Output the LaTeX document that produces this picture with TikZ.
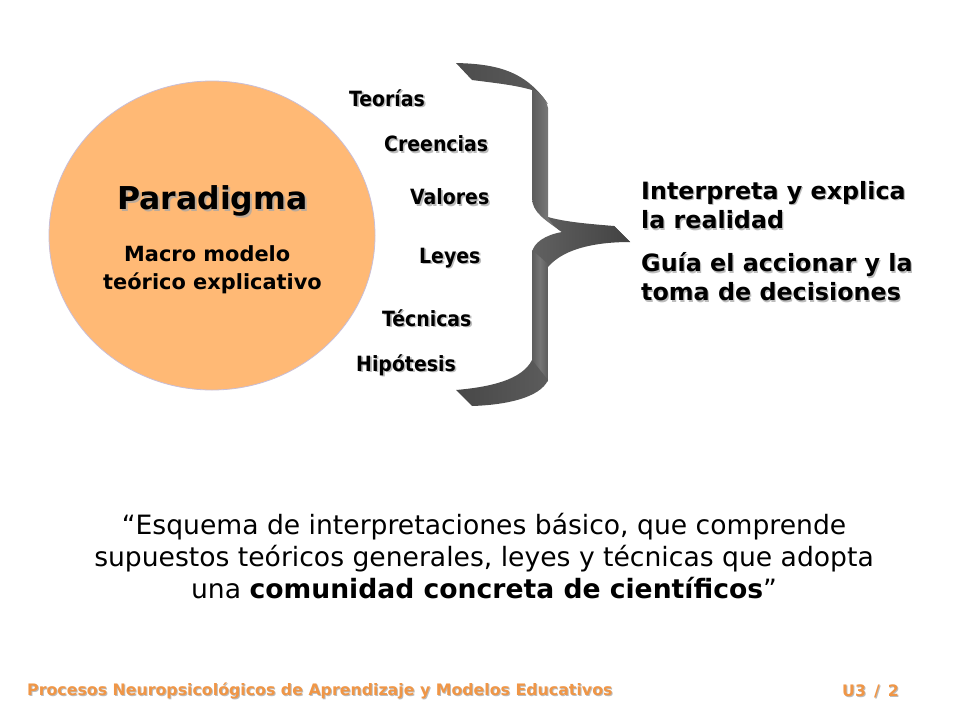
\documentclass[tikz,border=0pt]{standalone}
\usepackage{fontspec}
\setmainfont{DejaVu Sans}
\newfontfamily\condf{DejaVu Sans Condensed}
\usetikzlibrary{calc}
\definecolor{peach}{RGB}{255,185,117}
\definecolor{rimc}{RGB}{200,190,215}
\definecolor{footc}{RGB}{240,150,70}
\tikzset{x=1pt,y=-1pt,
  txt/.style={inner sep=0pt,anchor=west,font=\bfseries},
  lab/.style={inner sep=0pt,anchor=west,font=\condf\bfseries\fontsize{21}{25}\selectfont},
  side/.style={txt,font=\bfseries\fontsize{23.8}{28}\selectfont},
  sub/.style={txt,font=\bfseries\fontsize{20.9}{25}\selectfont},
  foot/.style={txt,text=footc,font=\bfseries\fontsize{15.8}{18}\selectfont},
  shd/.style={text=black!35,opacity=.75},
}
\newcommand{\stext}[5][1.6]{%
  \node[#2,shd] at ($(#3)+(#1,#1)$) {#5};
  \node[#2] (#4) at (#3) {#5};}
\begin{document}
\begin{tikzpicture}
\useasboundingbox (0,0) rectangle (960,720);
\fill[white] (0,0) rectangle (960,720);
\path[fill=peach,draw=rimc,line width=.8pt] (212,235.5) ellipse [x radius=163,y radius=154.5];
% brace
\path[left color=black!70,right color=black!64] (456,63) .. controls (495,64) and (525,70) .. (548,104)
  -- (532,90) .. controls (515,85) and (495,83) .. (472,80) -- cycle;
\path[left color=black!64,right color=black!64,middle color=black!54] (532,89) .. controls (540,93) and (546,98) .. (548,108) -- (548,217) -- (562,232) .. controls (545,220) and (532,212) .. (532,198) -- cycle;
\path[left color=black!64,right color=black!74] (548,217) .. controls (565,222) and (590,224) .. (614,226) -- (630,242) .. controls (600,240) and (580,238) .. (562,232) .. controls (555,228) and (551,222) .. (548,217) -- cycle;
\path[left color=black!62,right color=black!74] (562,232) .. controls (580,226) and (600,228) .. (614,226) -- (630,242) .. controls (600,242) and (565,247) .. (548,267) -- (532,253) .. controls (533,243) and (545,235) .. (562,232) -- cycle;
\path[left color=black!64,right color=black!64,middle color=black!54] (532,250) -- (548,264) -- (548,382) -- (532,362) -- cycle;
\path[left color=black!72,right color=black!64] (456,390) .. controls (490,387) and (522,380) .. (532,360) -- (548,380)
  .. controls (540,398) and (505,405) .. (472,406) -- cycle;
% circle text
\stext[2]{txt,font=\bfseries\fontsize{31.5}{36}\selectfont}{117,201}{par}{Paradigma}
\node[sub] (m1) at (124,254) {Macro modelo};
\node[sub] (m2) at (103,283) {teórico explicativo};
% labels
\stext{lab}{349,98}{l1}{Teorías}
\stext{lab}{384,144}{l2}{Creencias}
\stext{lab}{410,197}{l3}{Valores}
\stext{lab}{419,258}{l4}{Leyes}
\stext{lab}{382,318}{l5}{Técnicas}
\stext{lab}{356,365}{l6}{Hipótesis}
% right
\stext[1.2]{side}{641,193}{r1}{Interpreta y explica}
\stext[1.2]{side}{641,220}{r2}{la realidad}
\stext[1.2]{side}{641,265}{r3}{Guía el accionar y la}
\stext[1.2]{side}{641,292}{r4}{toma de decisiones}
% quote
\node[inner sep=0pt,align=center,font=\fontsize{26.6}{32}\selectfont] (q) at (484,556) {“Esquema de interpretaciones básico, que comprende\\ supuestos teóricos generales, leyes y técnicas que adopta\\ una \textbf{comunidad concreta de científicos}”};
% footer
\stext[1]{foot}{27,691}{f1}{Procesos Neuropsicológicos de Aprendizaje y Modelos Educativos}
\stext[1]{foot}{842,691}{f2}{U3\hspace{2.5pt} /\hspace{2.5pt} 2}
\end{tikzpicture}
\end{document}
